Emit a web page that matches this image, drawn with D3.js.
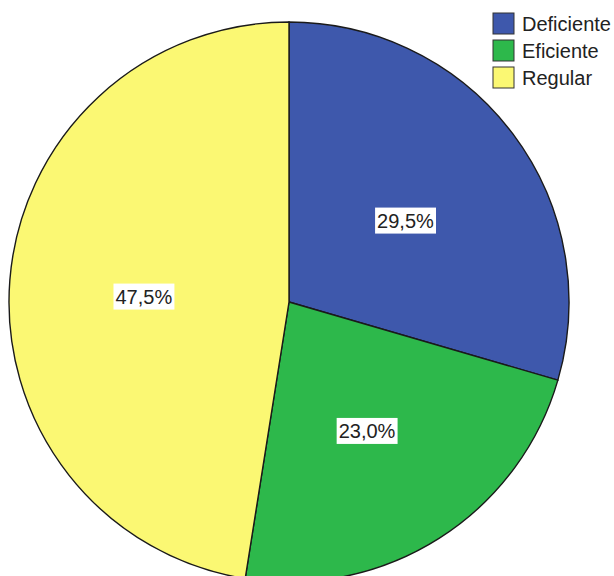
<!DOCTYPE html>
<html>
<head>
<meta charset="utf-8">
<script src="https://cdn.jsdelivr.net/npm/d3@7"></script>
<style>
  body { margin: 0; background: #fff; }
  text { font-family: "Liberation Sans", Arial, sans-serif; }
</style>
</head>
<body>
<div id="chart"></div>
<script>
// chart data
const categories = ["Deficiente", "Eficiente", "Regular"];
const percents = [29.5, 23.0, 47.5];
const colors = ["#3e58ac", "#2db84b", "#fbf873"];

const width = 614;
const height = 576;
const cx = 289, cy = 302, radius = 280;

const svg = d3.select("#chart").append("svg")
    .attr("width", width)
    .attr("height", height);

const data = categories.map((c, i) => ({ name: c, value: percents[i], color: colors[i] }));

const pie = d3.pie().sort(null).value(d => d.value);
const arc = d3.arc().innerRadius(0).outerRadius(radius);
const labelArc = d3.arc().innerRadius(radius * 0.52).outerRadius(radius * 0.52);

const g = svg.append("g")
    .attr("transform", "translate(" + cx + "," + cy + ")");

const slices = pie(data);

g.selectAll("path")
  .data(slices)
  .enter()
  .append("path")
  .attr("d", arc)
  .attr("fill", d => d.data.color)
  .attr("stroke", "#1a1a1a")
  .attr("stroke-width", 1.4);

// percentage labels with white boxes
const labels = g.selectAll(".lbl")
  .data(slices)
  .enter()
  .append("g")
  .attr("class", "lbl")
  .attr("transform", d => {
    const c = labelArc.centroid(d);
    return "translate(" + c[0] + "," + (c[1] + 6) + ")";
  });

labels.append("text")
  .attr("text-anchor", "middle")
  .attr("dy", "0.35em")
  .attr("font-size", 20)
  .attr("fill", "#222")
  .text(d => d3.format(".1f")(d.data.value).replace(".", ",") + "%");

labels.each(function() {
  const t = d3.select(this).select("text");
  const b = t.node().getBBox();
  d3.select(this).insert("rect", "text")
    .attr("x", b.x - 2)
    .attr("y", b.y - 2)
    .attr("width", b.width + 4)
    .attr("height", b.height + 4)
    .attr("fill", "#fff");
});

// legend
const legend = svg.append("g")
    .attr("transform", "translate(493,13)");

const items = legend.selectAll("g")
  .data(data)
  .enter()
  .append("g")
  .attr("transform", (d, i) => "translate(0," + i * 27 + ")");

items.append("rect")
  .attr("width", 21)
  .attr("height", 21)
  .attr("fill", d => d.color)
  .attr("stroke", "#333")
  .attr("stroke-width", 1);

items.append("text")
  .attr("x", 29)
  .attr("y", 11)
  .attr("dy", "0.35em")
  .attr("font-size", 20)
  .attr("fill", "#222")
  .text(d => d.name);
</script>
</body>
</html>
